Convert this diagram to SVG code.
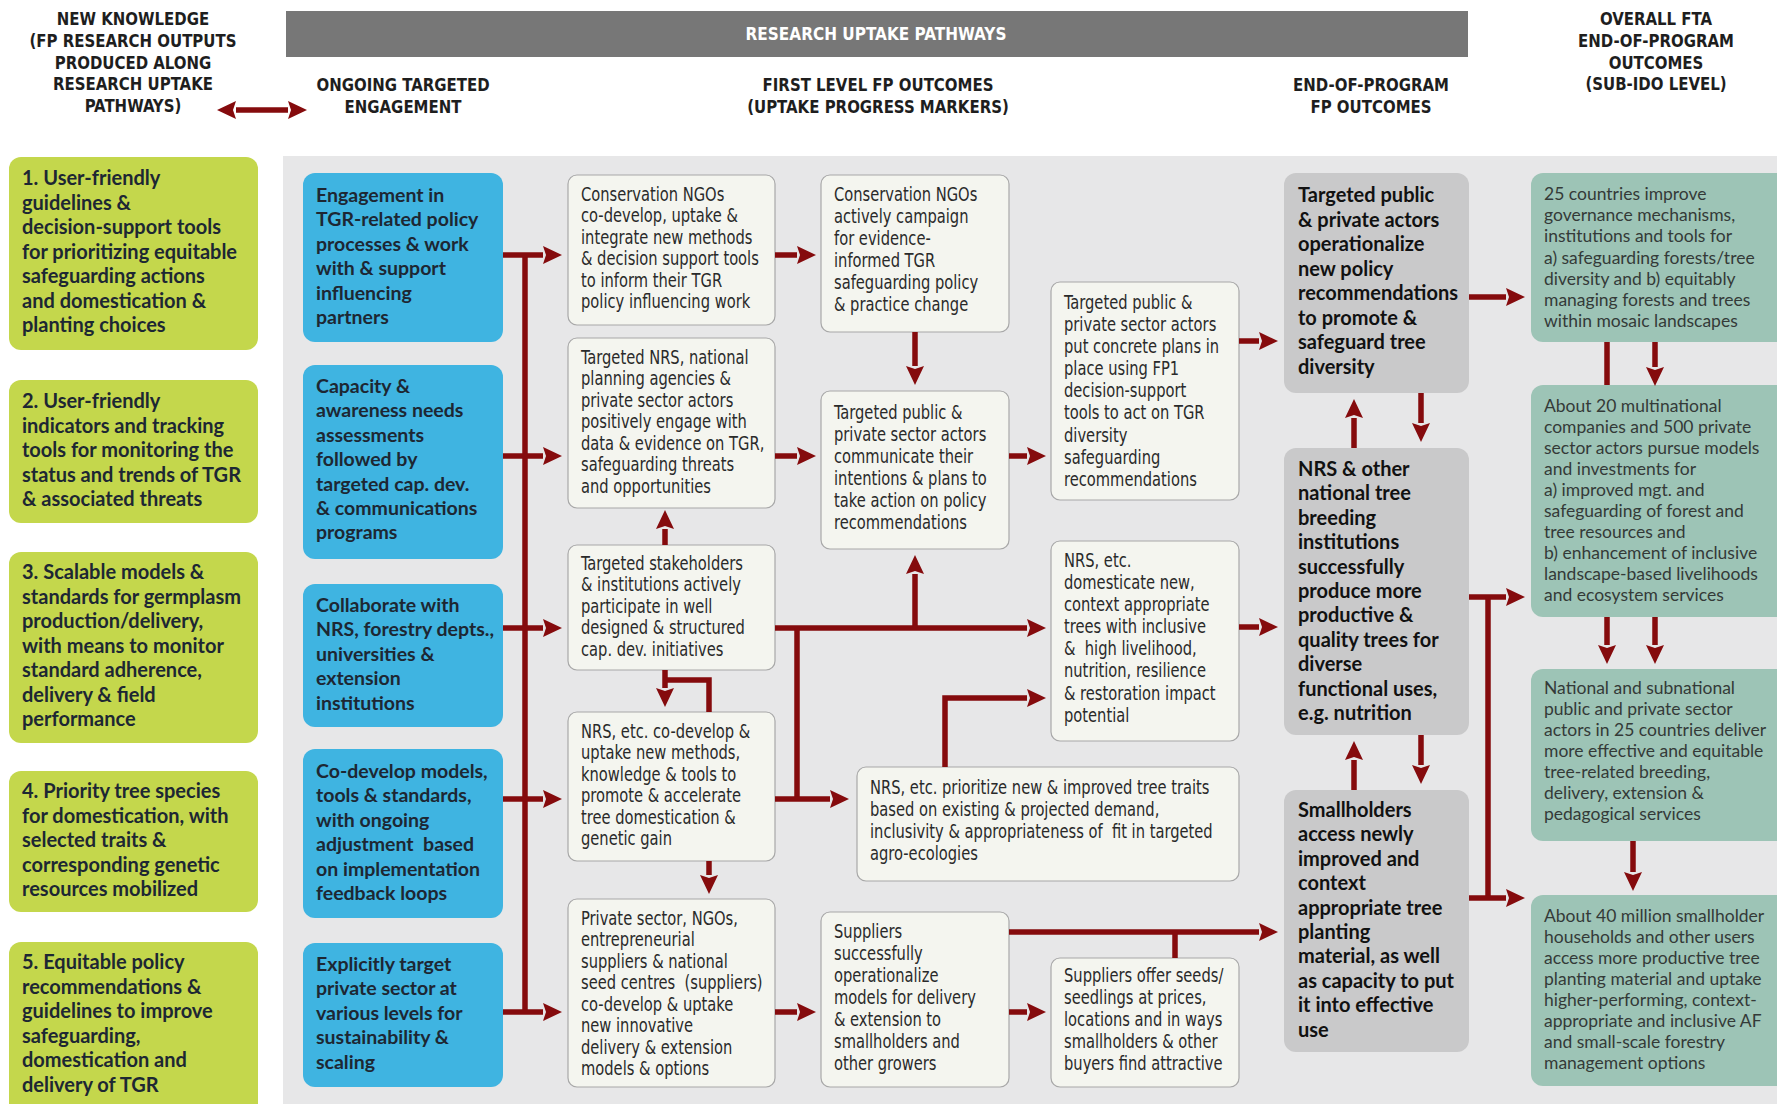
<svg xmlns="http://www.w3.org/2000/svg" width="1777" height="1104" viewBox="0 0 1777 1104">
<style>
.bg{fill:#e7e7e8}
.g{fill:#c4d74c}
.b{fill:#3fb4e1}
.w{fill:#f4f5ef;stroke:#a8a8a8;stroke-width:1.2}
.gr{fill:#c9c9ca}
.t{fill:#9dc4b6}
.tb{font-family:Lato,"Noto Sans",sans-serif;font-weight:700;font-size:20px;fill:#1d2733}
.bl{font-size:19.5px}
.tw{font-family:"DejaVu Sans Condensed","DejaVu Sans",sans-serif;font-stretch:condensed;font-size:19px;fill:#2a2a2a}
.tt{font-family:Lato,"Noto Sans",sans-serif;font-size:17.5px;fill:#343a38}
.th{font-family:"DejaVu Sans Condensed","DejaVu Sans",sans-serif;font-stretch:condensed;font-weight:700;font-size:18.5px;fill:#1e1e1e;text-anchor:middle}
.c{fill:none;stroke:#850b0d;stroke-width:5.5}
</style>
<defs>
<marker id="ah" markerUnits="userSpaceOnUse" markerWidth="20" markerHeight="20" refX="0" refY="10" orient="auto-start-reverse" viewBox="0 0 20 20">
<path d="M0,1 L19,10 L0,19 L3,10 z" fill="#850b0d"/>
</marker>
</defs>
<rect x="0" y="0" width="1777" height="1104" fill="#ffffff"/>
<rect class="bg" x="283" y="156" width="1494" height="948"/>

<g id="headers">
<rect x="286" y="11" width="1182" height="46" fill="#777777"/>
<text transform="matrix(0.92 0 0 1 876 0)" x="0" y="40" class="th" style="fill:#ffffff">RESEARCH UPTAKE PATHWAYS</text>
<text class="th" transform="matrix(0.9 0 0 1 133 0)" y="25"><tspan x="0">NEW KNOWLEDGE</tspan><tspan x="0" dy="21.8">(FP RESEARCH OUTPUTS</tspan><tspan x="0" dy="21.8">PRODUCED ALONG</tspan><tspan x="0" dy="21.8">RESEARCH UPTAKE</tspan><tspan x="0" dy="21.8">PATHWAYS)</tspan></text>
<text class="th" transform="matrix(0.9 0 0 1 403 0)" y="91"><tspan x="0">ONGOING TARGETED</tspan><tspan x="0" dy="22">ENGAGEMENT</tspan></text>
<text class="th" transform="matrix(0.9 0 0 1 878 0)" y="91"><tspan x="0">FIRST LEVEL FP OUTCOMES</tspan><tspan x="0" dy="22">(UPTAKE PROGRESS MARKERS)</tspan></text>
<text class="th" transform="matrix(0.9 0 0 1 1371 0)" y="91"><tspan x="0">END-OF-PROGRAM</tspan><tspan x="0" dy="22">FP OUTCOMES</tspan></text>
<text class="th" transform="matrix(0.9 0 0 1 1656 0)" y="25"><tspan x="0">OVERALL FTA</tspan><tspan x="0" dy="21.8">END-OF-PROGRAM</tspan><tspan x="0" dy="21.8">OUTCOMES</tspan><tspan x="0" dy="21.8">(SUB-IDO LEVEL)</tspan></text>
</g>

<!-- Green: new knowledge -->
<g id="k1"><rect class="g" x="9" y="157" width="249" height="193" rx="12"/>
<text class="tb" x="22" y="185"><tspan x="22">1. User-friendly</tspan><tspan x="22" dy="24.5">guidelines &amp;</tspan><tspan x="22" dy="24.5">decision-support tools</tspan><tspan x="22" dy="24.5">for prioritizing equitable</tspan><tspan x="22" dy="24.5">safeguarding actions</tspan><tspan x="22" dy="24.5">and domestication &amp;</tspan><tspan x="22" dy="24.5">planting choices</tspan></text></g>
<g id="k2"><rect class="g" x="9" y="380" width="249" height="143" rx="12"/>
<text class="tb" x="22" y="408"><tspan x="22">2. User-friendly</tspan><tspan x="22" dy="24.5">indicators and tracking</tspan><tspan x="22" dy="24.5">tools for monitoring the</tspan><tspan x="22" dy="24.5">status and trends of TGR</tspan><tspan x="22" dy="24.5">&amp; associated threats</tspan></text></g>
<g id="k3"><rect class="g" x="9" y="552" width="249" height="191" rx="12"/>
<text class="tb" x="22" y="579"><tspan x="22">3. Scalable models &amp;</tspan><tspan x="22" dy="24.5">standards for germplasm</tspan><tspan x="22" dy="24.5">production/delivery,</tspan><tspan x="22" dy="24.5">with means to monitor</tspan><tspan x="22" dy="24.5">standard adherence,</tspan><tspan x="22" dy="24.5">delivery &amp; field</tspan><tspan x="22" dy="24.5">performance</tspan></text></g>
<g id="k4"><rect class="g" x="9" y="771" width="249" height="141" rx="12"/>
<text class="tb" x="22" y="798"><tspan x="22">4. Priority tree species</tspan><tspan x="22" dy="24.5">for domestication, with</tspan><tspan x="22" dy="24.5">selected traits &amp;</tspan><tspan x="22" dy="24.5">corresponding genetic</tspan><tspan x="22" dy="24.5">resources mobilized</tspan></text></g>
<g id="k5"><rect class="g" x="9" y="942" width="249" height="175" rx="12"/>
<text class="tb" x="22" y="969"><tspan x="22">5. Equitable policy</tspan><tspan x="22" dy="24.5">recommendations &amp;</tspan><tspan x="22" dy="24.5">guidelines to improve</tspan><tspan x="22" dy="24.5">safeguarding,</tspan><tspan x="22" dy="24.5">domestication and</tspan><tspan x="22" dy="24.5">delivery of TGR</tspan></text></g>

<!-- Blue: engagement -->
<g id="e1"><rect class="b" x="303" y="173" width="200" height="169" rx="12"/>
<text class="tb bl" x="316" y="202"><tspan x="316">Engagement in</tspan><tspan x="316" dy="24.4">TGR-related policy</tspan><tspan x="316" dy="24.4">processes &amp; work</tspan><tspan x="316" dy="24.4">with &amp; support</tspan><tspan x="316" dy="24.4">influencing</tspan><tspan x="316" dy="24.4">partners</tspan></text></g>
<g id="e2"><rect class="b" x="303" y="365" width="200" height="194" rx="12"/>
<text class="tb bl" x="316" y="393"><tspan x="316">Capacity &amp;</tspan><tspan x="316" dy="24.4">awareness needs</tspan><tspan x="316" dy="24.4">assessments</tspan><tspan x="316" dy="24.4">followed by</tspan><tspan x="316" dy="24.4">targeted cap. dev.</tspan><tspan x="316" dy="24.4">&amp; communications</tspan><tspan x="316" dy="24.4">programs</tspan></text></g>
<g id="e3"><rect class="b" x="303" y="584" width="200" height="143" rx="12"/>
<text class="tb bl" x="316" y="612"><tspan x="316">Collaborate with</tspan><tspan x="316" dy="24.4">NRS, forestry depts.,</tspan><tspan x="316" dy="24.4">universities &amp;</tspan><tspan x="316" dy="24.4">extension</tspan><tspan x="316" dy="24.4">institutions</tspan></text></g>
<g id="e4"><rect class="b" x="303" y="749" width="200" height="169" rx="12"/>
<text class="tb bl" x="316" y="778"><tspan x="316">Co-develop models,</tspan><tspan x="316" dy="24.4">tools &amp; standards,</tspan><tspan x="316" dy="24.4">with ongoing</tspan><tspan x="316" dy="24.4" xml:space="preserve">adjustment  based</tspan><tspan x="316" dy="24.4">on implementation</tspan><tspan x="316" dy="24.4">feedback loops</tspan></text></g>
<g id="e5"><rect class="b" x="303" y="943" width="200" height="144" rx="12"/>
<text class="tb bl" x="316" y="971"><tspan x="316">Explicitly target</tspan><tspan x="316" dy="24.4">private sector at</tspan><tspan x="316" dy="24.4">various levels for</tspan><tspan x="316" dy="24.4">sustainability &amp;</tspan><tspan x="316" dy="24.4">scaling</tspan></text></g>

<!-- White: first level outcomes -->
<g id="oA"><rect class="w" x="568" y="175" width="207" height="150" rx="9"/>
<text class="tw" transform="matrix(0.86 0 0 1 581 0)" y="201"><tspan x="0">Conservation NGOs</tspan><tspan x="0" dy="21.5">co-develop, uptake &amp;</tspan><tspan x="0" dy="21.5">integrate new methods</tspan><tspan x="0" dy="21.5">&amp; decision support tools</tspan><tspan x="0" dy="21.5">to inform their TGR</tspan><tspan x="0" dy="21.5">policy influencing work</tspan></text></g>
<g id="oB"><rect class="w" x="568" y="338" width="207" height="170" rx="9"/>
<text class="tw" transform="matrix(0.86 0 0 1 581 0)" y="364"><tspan x="0">Targeted NRS, national</tspan><tspan x="0" dy="21.5">planning agencies &amp;</tspan><tspan x="0" dy="21.5">private sector actors</tspan><tspan x="0" dy="21.5">positively engage with</tspan><tspan x="0" dy="21.5">data &amp; evidence on TGR,</tspan><tspan x="0" dy="21.5">safeguarding threats</tspan><tspan x="0" dy="21.5">and opportunities</tspan></text></g>
<g id="oC"><rect class="w" x="568" y="545" width="207" height="125" rx="9"/>
<text class="tw" transform="matrix(0.86 0 0 1 581 0)" y="570"><tspan x="0">Targeted stakeholders</tspan><tspan x="0" dy="21.5">&amp; institutions actively</tspan><tspan x="0" dy="21.5">participate in well</tspan><tspan x="0" dy="21.5">designed &amp; structured</tspan><tspan x="0" dy="21.5">cap. dev. initiatives</tspan></text></g>
<g id="oD"><rect class="w" x="568" y="712" width="207" height="149" rx="9"/>
<text class="tw" transform="matrix(0.86 0 0 1 581 0)" y="738"><tspan x="0">NRS, etc. co-develop &amp;</tspan><tspan x="0" dy="21.5">uptake new methods,</tspan><tspan x="0" dy="21.5">knowledge &amp; tools to</tspan><tspan x="0" dy="21.5">promote &amp; accelerate</tspan><tspan x="0" dy="21.5">tree domestication &amp;</tspan><tspan x="0" dy="21.5">genetic gain</tspan></text></g>
<g id="oE"><rect class="w" x="568" y="899" width="207" height="188" rx="9"/>
<text class="tw" transform="matrix(0.86 0 0 1 581 0)" y="925"><tspan x="0">Private sector, NGOs,</tspan><tspan x="0" dy="21.5">entrepreneurial</tspan><tspan x="0" dy="21.5">suppliers &amp; national</tspan><tspan x="0" dy="21.5" xml:space="preserve">seed centres  (suppliers)</tspan><tspan x="0" dy="21.5">co-develop &amp; uptake</tspan><tspan x="0" dy="21.5">new innovative</tspan><tspan x="0" dy="21.5">delivery &amp; extension</tspan><tspan x="0" dy="21.5">models &amp; options</tspan></text></g>
<g id="oF"><rect class="w" x="821" y="175" width="188" height="157" rx="9"/>
<text class="tw" transform="matrix(0.86 0 0 1 834 0)" y="201"><tspan x="0">Conservation NGOs</tspan><tspan x="0" dy="22">actively campaign</tspan><tspan x="0" dy="22">for evidence-</tspan><tspan x="0" dy="22">informed TGR</tspan><tspan x="0" dy="22">safeguarding policy</tspan><tspan x="0" dy="22">&amp; practice change</tspan></text></g>
<g id="oG"><rect class="w" x="821" y="391" width="188" height="158" rx="9"/>
<text class="tw" transform="matrix(0.86 0 0 1 834 0)" y="419"><tspan x="0">Targeted public &amp;</tspan><tspan x="0" dy="22">private sector actors</tspan><tspan x="0" dy="22">communicate their</tspan><tspan x="0" dy="22">intentions &amp; plans to</tspan><tspan x="0" dy="22">take action on policy</tspan><tspan x="0" dy="22">recommendations</tspan></text></g>
<g id="oH"><rect class="w" x="821" y="912" width="188" height="175" rx="9"/>
<text class="tw" transform="matrix(0.86 0 0 1 834 0)" y="938"><tspan x="0">Suppliers</tspan><tspan x="0" dy="22">successfully</tspan><tspan x="0" dy="22">operationalize</tspan><tspan x="0" dy="22">models for delivery</tspan><tspan x="0" dy="22">&amp; extension to</tspan><tspan x="0" dy="22">smallholders and</tspan><tspan x="0" dy="22">other growers</tspan></text></g>
<g id="oI"><rect class="w" x="1051" y="282" width="188" height="218" rx="9"/>
<text class="tw" transform="matrix(0.86 0 0 1 1064 0)" y="309"><tspan x="0">Targeted public &amp;</tspan><tspan x="0" dy="22.1">private sector actors</tspan><tspan x="0" dy="22.1">put concrete plans in</tspan><tspan x="0" dy="22.1">place using FP1</tspan><tspan x="0" dy="22.1">decision-support</tspan><tspan x="0" dy="22.1">tools to act on TGR</tspan><tspan x="0" dy="22.1">diversity</tspan><tspan x="0" dy="22.1">safeguarding</tspan><tspan x="0" dy="22.1">recommendations</tspan></text></g>
<g id="oJ"><rect class="w" x="1051" y="541" width="188" height="200" rx="9"/>
<text class="tw" transform="matrix(0.86 0 0 1 1064 0)" y="567"><tspan x="0">NRS, etc.</tspan><tspan x="0" dy="22.1">domesticate new,</tspan><tspan x="0" dy="22.1">context appropriate</tspan><tspan x="0" dy="22.1">trees with inclusive</tspan><tspan x="0" dy="22.1" xml:space="preserve">&amp;  high livelihood,</tspan><tspan x="0" dy="22.1">nutrition, resilience</tspan><tspan x="0" dy="22.1">&amp; restoration impact</tspan><tspan x="0" dy="22.1">potential</tspan></text></g>
<g id="oK"><rect class="w" x="857" y="767" width="382" height="114" rx="9"/>
<text class="tw" transform="matrix(0.86 0 0 1 870 0)" y="794"><tspan x="0">NRS, etc. prioritize new &amp; improved tree traits</tspan><tspan x="0" dy="22">based on existing &amp; projected demand,</tspan><tspan x="0" dy="22" xml:space="preserve">inclusivity &amp; appropriateness of  fit in targeted</tspan><tspan x="0" dy="22">agro-ecologies</tspan></text></g>
<g id="oL"><rect class="w" x="1051" y="958" width="188" height="129" rx="9"/>
<text class="tw" transform="matrix(0.86 0 0 1 1064 0)" y="982"><tspan x="0">Suppliers offer seeds/</tspan><tspan x="0" dy="22">seedlings at prices,</tspan><tspan x="0" dy="22">locations and in ways</tspan><tspan x="0" dy="22">smallholders &amp; other</tspan><tspan x="0" dy="22">buyers find attractive</tspan></text></g>

<!-- Gray: end-of-program FP outcomes -->
<g id="pM"><rect class="gr" x="1284" y="173" width="185" height="220" rx="12"/>
<text class="tb" x="1298" y="202" style="fill:#111"><tspan x="1298">Targeted public</tspan><tspan x="1298" dy="24.5">&amp; private actors</tspan><tspan x="1298" dy="24.5">operationalize</tspan><tspan x="1298" dy="24.5">new policy</tspan><tspan x="1298" dy="24.5">recommendations</tspan><tspan x="1298" dy="24.5">to promote &amp;</tspan><tspan x="1298" dy="24.5">safeguard tree</tspan><tspan x="1298" dy="24.5">diversity</tspan></text></g>
<g id="pN"><rect class="gr" x="1284" y="448" width="185" height="287" rx="12"/>
<text class="tb" x="1298" y="476" style="fill:#111"><tspan x="1298">NRS &amp; other</tspan><tspan x="1298" dy="24.4">national tree</tspan><tspan x="1298" dy="24.4">breeding</tspan><tspan x="1298" dy="24.4">institutions</tspan><tspan x="1298" dy="24.4">successfully</tspan><tspan x="1298" dy="24.4">produce more</tspan><tspan x="1298" dy="24.4">productive &amp;</tspan><tspan x="1298" dy="24.4">quality trees for</tspan><tspan x="1298" dy="24.4">diverse</tspan><tspan x="1298" dy="24.4">functional uses,</tspan><tspan x="1298" dy="24.4">e.g. nutrition</tspan></text></g>
<g id="pO"><rect class="gr" x="1284" y="790" width="185" height="262" rx="12"/>
<text class="tb" x="1298" y="817" style="fill:#111"><tspan x="1298">Smallholders</tspan><tspan x="1298" dy="24.4">access newly</tspan><tspan x="1298" dy="24.4">improved and</tspan><tspan x="1298" dy="24.4">context</tspan><tspan x="1298" dy="24.4">appropriate tree</tspan><tspan x="1298" dy="24.4">planting</tspan><tspan x="1298" dy="24.4">material, as well</tspan><tspan x="1298" dy="24.4">as capacity to put</tspan><tspan x="1298" dy="24.4">it into effective</tspan><tspan x="1298" dy="24.4">use</tspan></text></g>

<!-- Teal: overall FTA outcomes -->
<g id="sP"><rect class="t" x="1531" y="173" width="260" height="169" rx="12"/>
<text class="tt" x="1544" y="200"><tspan x="1544">25 countries improve</tspan><tspan x="1544" dy="21.2">governance mechanisms,</tspan><tspan x="1544" dy="21.2">institutions and tools for</tspan><tspan x="1544" dy="21.2">a) safeguarding forests/tree</tspan><tspan x="1544" dy="21.2">diversity and b) equitably</tspan><tspan x="1544" dy="21.2">managing forests and trees</tspan><tspan x="1544" dy="21.2">within mosaic landscapes</tspan></text></g>
<g id="sQ"><rect class="t" x="1531" y="385" width="260" height="232" rx="12"/>
<text class="tt" x="1544" y="412"><tspan x="1544">About 20 multinational</tspan><tspan x="1544" dy="21">companies and 500 private</tspan><tspan x="1544" dy="21">sector actors pursue models</tspan><tspan x="1544" dy="21">and investments for</tspan><tspan x="1544" dy="21">a) improved mgt. and</tspan><tspan x="1544" dy="21">safeguarding of forest and</tspan><tspan x="1544" dy="21">tree resources and</tspan><tspan x="1544" dy="21">b) enhancement of inclusive</tspan><tspan x="1544" dy="21">landscape-based livelihoods</tspan><tspan x="1544" dy="21">and ecosystem services</tspan></text></g>
<g id="sR"><rect class="t" x="1531" y="669" width="260" height="172" rx="12"/>
<text class="tt" x="1544" y="694"><tspan x="1544">National and subnational</tspan><tspan x="1544" dy="21">public and private sector</tspan><tspan x="1544" dy="21">actors in 25 countries deliver</tspan><tspan x="1544" dy="21">more effective and equitable</tspan><tspan x="1544" dy="21">tree-related breeding,</tspan><tspan x="1544" dy="21">delivery, extension &amp;</tspan><tspan x="1544" dy="21">pedagogical services</tspan></text></g>
<g id="sS"><rect class="t" x="1531" y="895" width="260" height="191" rx="12"/>
<text class="tt" x="1544" y="922"><tspan x="1544">About 40 million smallholder</tspan><tspan x="1544" dy="21">households and other users</tspan><tspan x="1544" dy="21">access more productive tree</tspan><tspan x="1544" dy="21">planting material and uptake</tspan><tspan x="1544" dy="21">higher-performing, context-</tspan><tspan x="1544" dy="21">appropriate and inclusive AF</tspan><tspan x="1544" dy="21">and small-scale forestry</tspan><tspan x="1544" dy="21">management options</tspan></text></g>

<g id="connectors" class="c">
<line x1="236" y1="110" x2="288" y2="110" marker-start="url(#ah)" marker-end="url(#ah)"/>
<line x1="525" y1="255" x2="525" y2="1012"/>
<line x1="503" y1="255" x2="543" y2="255" marker-end="url(#ah)"/>
<line x1="503" y1="456" x2="543" y2="456" marker-end="url(#ah)"/>
<line x1="503" y1="628" x2="543" y2="628" marker-end="url(#ah)"/>
<line x1="503" y1="799" x2="543" y2="799" marker-end="url(#ah)"/>
<line x1="503" y1="1012" x2="543" y2="1012" marker-end="url(#ah)"/>
<line x1="775" y1="255" x2="797" y2="255" marker-end="url(#ah)"/>
<line x1="775" y1="456" x2="797" y2="456" marker-end="url(#ah)"/>
<line x1="1009" y1="456" x2="1027" y2="456" marker-end="url(#ah)"/>
<line x1="915" y1="332" x2="915" y2="366" marker-end="url(#ah)"/>
<line x1="665" y1="545" x2="665" y2="529" marker-end="url(#ah)"/>
<line x1="775" y1="628" x2="1027" y2="628" marker-end="url(#ah)"/>
<line x1="915" y1="628" x2="915" y2="574" marker-end="url(#ah)"/>
<line x1="797" y1="628" x2="797" y2="799"/>
<line x1="775" y1="799" x2="830" y2="799" marker-end="url(#ah)"/>
<line x1="665" y1="670" x2="665" y2="688" marker-end="url(#ah)"/>
<polyline points="709,712 709,680 665,680"/>
<line x1="709" y1="861" x2="709" y2="875" marker-end="url(#ah)"/>
<polyline points="945,767 945,698 1027,698" marker-end="url(#ah)"/>
<line x1="775" y1="1012" x2="797" y2="1012" marker-end="url(#ah)"/>
<line x1="1009" y1="1012" x2="1027" y2="1012" marker-end="url(#ah)"/>
<line x1="1009" y1="932" x2="1259" y2="932" marker-end="url(#ah)"/>
<line x1="1175" y1="958" x2="1175" y2="932"/>
<line x1="1239" y1="341" x2="1259" y2="341" marker-end="url(#ah)"/>
<line x1="1239" y1="627" x2="1259" y2="627" marker-end="url(#ah)"/>
<line x1="1469" y1="297" x2="1506" y2="297" marker-end="url(#ah)"/>
<line x1="1421" y1="393" x2="1421" y2="423" marker-end="url(#ah)"/>
<line x1="1354" y1="448" x2="1354" y2="418" marker-end="url(#ah)"/>
<line x1="1421" y1="735" x2="1421" y2="765" marker-end="url(#ah)"/>
<line x1="1354" y1="790" x2="1354" y2="760" marker-end="url(#ah)"/>
<line x1="1469" y1="597" x2="1506" y2="597" marker-end="url(#ah)"/>
<line x1="1488" y1="597" x2="1488" y2="898"/>
<line x1="1469" y1="898" x2="1506" y2="898" marker-end="url(#ah)"/>
<line x1="1607" y1="342" x2="1607" y2="385"/>
<line x1="1655" y1="342" x2="1655" y2="367" marker-end="url(#ah)"/>
<line x1="1607" y1="617" x2="1607" y2="645" marker-end="url(#ah)"/>
<line x1="1655" y1="617" x2="1655" y2="645" marker-end="url(#ah)"/>
<line x1="1633" y1="841" x2="1633" y2="872" marker-end="url(#ah)"/>
</g>
</svg>
